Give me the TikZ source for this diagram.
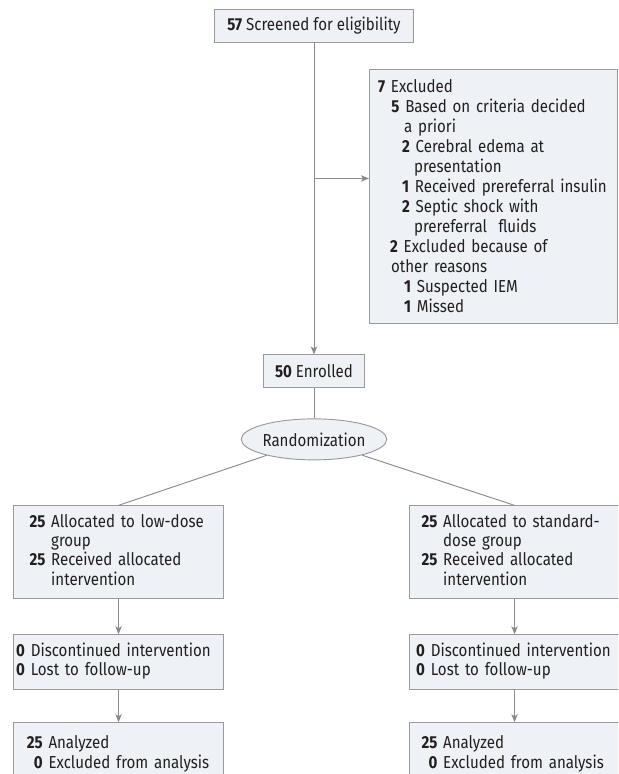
\documentclass[tikz,border=0pt]{standalone}
\usepackage{fontspec}
\setmainfont{Fira Sans}[FakeStretch=0.87]
\usetikzlibrary{shapes.geometric, arrows.meta, positioning}
\definecolor{boxfill}{HTML}{EEF1F5}
\definecolor{boxline}{HTML}{9A9A9A}
\definecolor{linkline}{HTML}{8A8A8A}
\definecolor{txt}{HTML}{231F20}
\tikzstyle{box} = [rectangle, draw=boxline, fill=boxfill, text=txt, line width=0.7pt]
\tikzstyle{armbox} = [box, text width=157.5pt, inner xsep=0pt, align=left]
\tikzstyle{oval} = [ellipse, draw=boxline, fill=boxfill, text=txt, line width=0.7pt, minimum width=98.25pt, minimum height=30.75pt, inner sep=0pt]
\tikzstyle{link} = [draw=linkline, line width=0.7pt]
\tikzstyle{arrow} = [link, -{Stealth[length=6pt, width=4.8pt, inset=1.5pt]}]

\begin{document}
\begin{tikzpicture}[font=\fontsize{13}{14.6}\selectfont]
	\useasboundingbox (-235.5pt,19.125pt) rectangle (228pt,-561.375pt);
	\clip (-235.5pt,19.125pt) rectangle (228pt,-561.375pt);

	\node (screen) [box, minimum width=149.25pt, minimum height=24.75pt] {\textbf{57} Screened for eligibility};
	\node (enrol) [box, below=234pt of screen, minimum width=75.75pt, minimum height=24.75pt] {\textbf{50} Enrolled};

	\coordinate (split) at ([yshift=-102pt]screen.south);
	\node (excl) [box, right=41.25pt of split, yshift=-13.5pt, anchor=west, text width=173pt, inner xsep=6.5pt, minimum height=190.5pt, align=left, font=\fontsize{13}{15}\selectfont] {
		\textbf{7} Excluded\\
		\hspace*{10pt}\textbf{5} Based on criteria decided\\
		\hspace*{19.5pt}a priori\\
		\hspace*{18pt}\textbf{2} Cerebral edema at\\
		\hspace*{27pt}presentation\\
		\hspace*{18pt}\textbf{1} Received prereferral insulin\\
		\hspace*{18pt}\textbf{2} Septic shock with\\
		\hspace*{27pt}prereferral\ \ fluids\\
		\hspace*{9pt}\textbf{2} Excluded because of\\
		\hspace*{9.75pt}other reasons\\
		\hspace*{19.5pt}\textbf{1} Suspected IEM\\
		\hspace*{19.5pt}\textbf{1} Missed};

	\draw [arrow] (screen) -- (enrol);
	\draw [arrow] (split) -- (split -| excl.west);

	\node (rand) [oval, below=22.5pt of enrol] {Randomization};

	% low-dose arm
	\node (lowA) [armbox, below=33.75pt of rand, xshift=-146.6pt, minimum height=69.75pt] {\hspace*{12pt}\begin{tabular}{@{}r@{\ }l@{}}
		\textbf{25} & Allocated to low-dose\\
		 & group\\
		\textbf{25} & Received allocated\\
		 & intervention
	\end{tabular}};
	\node (lowB) [armbox, below=26.25pt of lowA, minimum height=41.25pt] {\hspace*{2pt}\begin{tabular}{@{}r@{\ }l@{}}
		\textbf{0} & Discontinued intervention\\
		\textbf{0} & Lost to follow-up
	\end{tabular}};
	\node (lowC) [armbox, below=24pt of lowB, minimum height=48pt] {\hspace*{10pt}\begin{tabular}{@{}r@{\ }l@{}}
		\textbf{25} & Analyzed\\
		\textbf{0} & Excluded from analysis
	\end{tabular}};

	% standard-dose arm
	\node (stdA) [armbox, below=33.75pt of rand, xshift=150.4pt, minimum height=69.75pt] {\hspace*{9pt}\begin{tabular}{@{}r@{\ }l@{}}
		\textbf{25} & Allocated to standard-\\
		 & dose group\\
		\textbf{25} & Received allocated\\
		 & intervention
	\end{tabular}};
	\node (stdB) [armbox, below=26.25pt of stdA, minimum height=41.25pt] {\hspace*{5pt}\begin{tabular}{@{}r@{\ }l@{}}
		\textbf{0} & Discontinued intervention\\
		\textbf{0} & Lost to follow-up
	\end{tabular}};
	\node (stdC) [armbox, below=24pt of stdB, minimum height=48pt] {\hspace*{9pt}\begin{tabular}{@{}r@{\ }l@{}}
		\textbf{25} & Analyzed\\
		\textbf{0} & Excluded from analysis
	\end{tabular}};

	\draw [link] (enrol) -- (rand);
	\draw [link] (rand) -- (lowA.north);
	\draw [link] (rand) -- (stdA.north);
	\draw [arrow] (lowA) -- (lowB);
	\draw [arrow] (lowB) -- (lowC);
	\draw [arrow] (stdA) -- (stdB);
	\draw [arrow] (stdB) -- (stdC);
\end{tikzpicture}
\end{document}
